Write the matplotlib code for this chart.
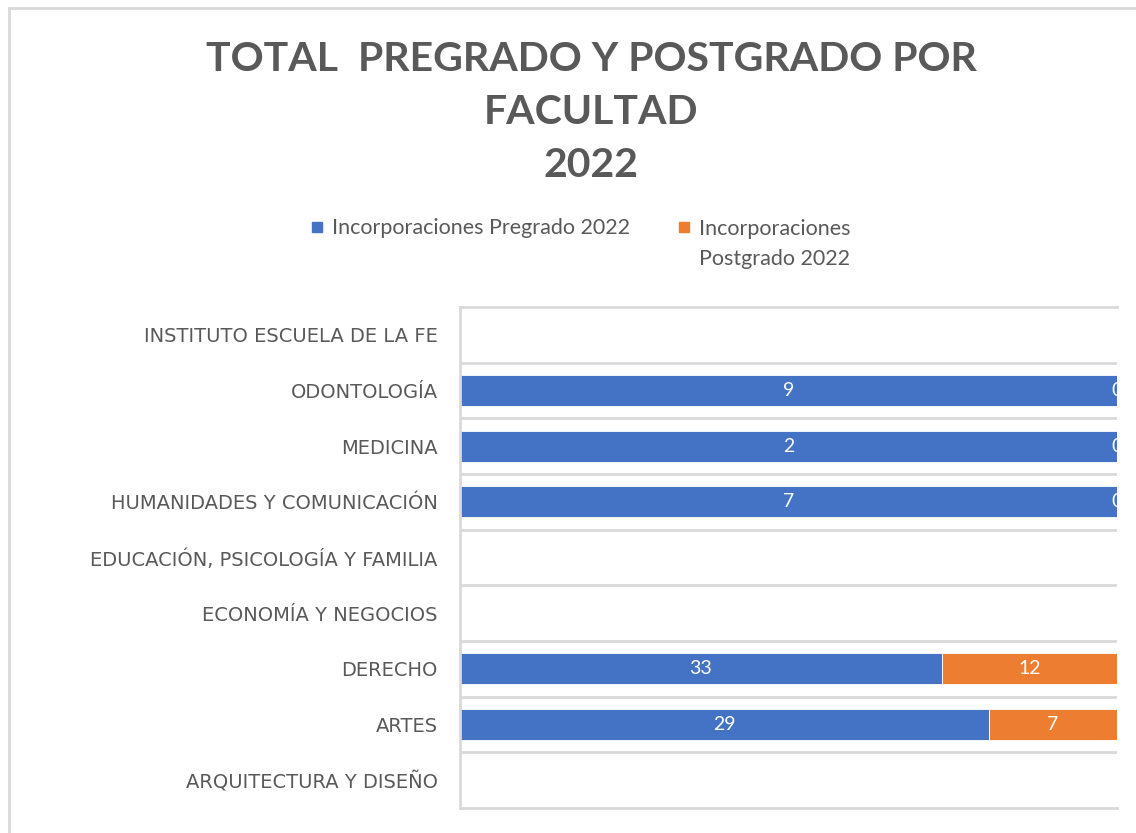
import numpy as np
import matplotlib
matplotlib.use("Agg")
import matplotlib.pyplot as plt
from matplotlib.lines import Line2D
from matplotlib.patches import Rectangle

plt.rcParams['font.family'] = ['Lato', 'DejaVu Sans']

# Data (bottom to top, as Excel draws them)
facultades = ['ARQUITECTURA Y DISEÑO', 'ARTES', 'DERECHO', 'ECONOMÍA Y NEGOCIOS',
              'EDUCACIÓN, PSICOLOGÍA Y FAMILIA', 'HUMANIDADES Y COMUNICACIÓN',
              'MEDICINA', 'ODONTOLOGÍA', 'INSTITUTO ESCUELA DE LA FE']
pregrado = [None, 29, 33, None, None, 7, 2, 9, None]
postgrado = [None, 7, 12, None, None, 0, 0, 0, None]
series_names = ['Incorporaciones Pregrado 2022', 'Incorporaciones Postgrado 2022']

BLUE = '#4472C4'
ORANGE = '#ED7D31'
GRAY_TXT = '#595959'
GRID = '#D9D9D9'

fig = plt.figure(figsize=(11.36, 8.33), dpi=100)
ax = fig.add_axes([460 / 1136, 25 / 833, 657 / 1136, 501 / 833])

y = np.arange(len(facultades))
for i, (p, q) in enumerate(zip(pregrado, postgrado)):
    if p is None:
        continue
    tot = p + q
    fp, fq = p / tot, q / tot
    ax.barh(i, fp, height=0.556, color=BLUE, edgecolor='white', linewidth=0.6)
    ax.barh(i, fq, left=fp, height=0.556, color=ORANGE, edgecolor='white', linewidth=0.6)
    ax.text(fp / 2, i, str(p), ha='center', va='center', color='white', fontsize=14, clip_on=True)
    ax.text(fp + fq / 2, i, str(q), ha='center', va='center', color='white', fontsize=14, clip_on=True)

ax.set_xlim(0, 1)
ax.set_ylim(-0.5, len(facultades) - 0.5)
ax.set_yticks(y)
ax.set_yticklabels(facultades, color=GRAY_TXT, fontsize=14, family=['DejaVu Sans'])
ax.set_yticks(np.arange(0.5, len(facultades) - 1), minor=True)
ax.tick_params(axis='y', which='both', length=0, pad=16)
ax.set_xticks([])
ax.grid(which='minor', axis='y', color=GRID, linewidth=2)
ax.set_axisbelow(True)
for s in ['left', 'top', 'bottom']:
    ax.spines[s].set_color(GRID)
    ax.spines[s].set_linewidth(2)
ax.spines['right'].set_visible(False)

# title
fig.text(591 / 1136, 1 - 112.5 / 833, 'TOTAL  PREGRADO Y POSTGRADO POR\nFACULTAD\n2022',
         ha='center', va='center', fontsize=29.5, fontweight='bold', color=GRAY_TXT,
         linespacing=1.53)

# legend
fig.add_artist(Rectangle((312 / 1136, 1 - 232 / 833), 10 / 1136, 10 / 833,
                         transform=fig.transFigure, color=BLUE))
fig.text(332 / 1136, 1 - 234 / 833, series_names[0], ha='left', va='baseline',
         fontsize=15.5, color=GRAY_TXT)
fig.add_artist(Rectangle((679 / 1136, 1 - 232 / 833), 10 / 1136, 10 / 833,
                         transform=fig.transFigure, color=ORANGE))
fig.text(699 / 1136, 1 - 219.5 / 833, 'Incorporaciones\nPostgrado 2022', ha='left', va='top',
         fontsize=15.5, color=GRAY_TXT, linespacing=1.6)

# outer chart border (partly cropped)
fig.add_artist(Line2D([9 / 1136, 9 / 1136], [0, 1 - 8 / 833], transform=fig.transFigure,
                      color=GRID, linewidth=2))
fig.add_artist(Line2D([9 / 1136, 1], [1 - 8 / 833, 1 - 8 / 833], transform=fig.transFigure,
                      color=GRID, linewidth=2))

fig.savefig('out.png', dpi=100)
